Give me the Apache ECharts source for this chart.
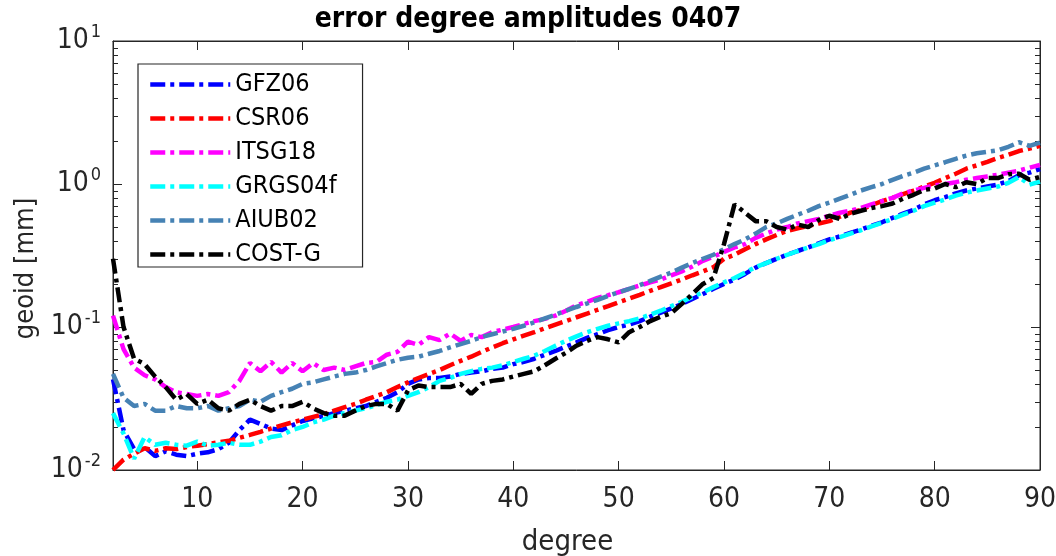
<!DOCTYPE html>
<html>
<head>
<meta charset="utf-8">
<script src="https://cdn.jsdelivr.net/npm/echarts@6/dist/echarts.min.js"></script>
<style>
  html, body { margin: 0; padding: 0; background: #fff; }
  #chart { width: 1056px; height: 556px; }
</style>
</head>
<body>
<div id="chart"></div>
<script>
const FONT = "'Liberation Sans Narrow', 'DejaVu Sans Condensed', 'Liberation Sans', sans-serif";

const degrees = [2, 3, 4, 5, 6, 7, 8, 9, 10, 11, 12, 13, 14, 15, 16, 17, 18, 19, 20,
  21, 22, 23, 24, 25, 26, 27, 28, 29, 30, 31, 32, 33, 34, 35, 36, 37, 38, 39, 40,
  41, 42, 43, 44, 45, 46, 47, 48, 49, 50, 51, 52, 53, 54, 55, 56, 57, 58, 59, 60,
  61, 62, 63, 64, 65, 66, 67, 68, 69, 70, 71, 72, 73, 74, 75, 76, 77, 78, 79, 80,
  81, 82, 83, 84, 85, 86, 87, 88, 89, 90];

const gfz06 = [0.043, 0.019, 0.014, 0.0145, 0.0125, 0.0135, 0.0128, 0.0125, 0.013, 0.0133,
  0.014, 0.0155, 0.019, 0.0225, 0.021, 0.0195, 0.019, 0.0205, 0.022, 0.023,
  0.0238, 0.025, 0.026, 0.027, 0.028, 0.030, 0.032, 0.035, 0.040, 0.043,
  0.044, 0.044, 0.045, 0.047, 0.048, 0.049, 0.051, 0.052, 0.055, 0.057,
  0.06, 0.064, 0.068, 0.073, 0.078, 0.084, 0.089, 0.095, 0.1, 0.104,
  0.11, 0.118, 0.126, 0.135, 0.145, 0.157, 0.17, 0.185, 0.2, 0.215,
  0.235, 0.26, 0.28, 0.3, 0.32, 0.34, 0.36, 0.385, 0.41, 0.43,
  0.455, 0.48, 0.51, 0.54, 0.58, 0.62, 0.66, 0.72, 0.77, 0.81,
  0.86, 0.9, 0.93, 0.96, 0.99, 1.05, 1.15, 1.2, 1.27];

const csr06 = [0.01, 0.0118, 0.013, 0.0142, 0.0136, 0.0142, 0.014, 0.0145, 0.0148, 0.0152,
  0.0156, 0.016, 0.0168, 0.0176, 0.0185, 0.0195, 0.0205, 0.0215, 0.0225, 0.0235,
  0.0245, 0.026, 0.0275, 0.029, 0.031, 0.033, 0.035, 0.038, 0.041, 0.044,
  0.047, 0.05, 0.054, 0.058, 0.062, 0.067, 0.072, 0.077, 0.082, 0.087,
  0.092, 0.098, 0.104, 0.11, 0.117, 0.124, 0.132, 0.14, 0.149, 0.158,
  0.168, 0.179, 0.19, 0.202, 0.215, 0.23, 0.245, 0.262, 0.3, 0.32,
  0.35, 0.38, 0.41, 0.44, 0.47, 0.49, 0.51, 0.53, 0.55, 0.59,
  0.63, 0.66, 0.71, 0.76, 0.8, 0.85, 0.9, 0.96, 1.02, 1.1,
  1.18, 1.28, 1.35, 1.43, 1.52, 1.6, 1.7, 1.77, 1.85];

const itsg18 = [0.12, 0.07, 0.052, 0.046, 0.043, 0.038, 0.035, 0.034, 0.033, 0.034,
  0.033, 0.035, 0.042, 0.056, 0.049, 0.057, 0.048, 0.056, 0.049, 0.056,
  0.05, 0.052, 0.05, 0.053, 0.056, 0.057, 0.064, 0.067, 0.079, 0.075,
  0.085, 0.081, 0.09, 0.08, 0.088, 0.085, 0.092, 0.096, 0.1, 0.105,
  0.11, 0.114, 0.12, 0.13, 0.142, 0.15, 0.16, 0.167, 0.175, 0.185,
  0.195, 0.205, 0.215, 0.23, 0.245, 0.265, 0.29, 0.31, 0.335, 0.36,
  0.38, 0.42, 0.45, 0.48, 0.5, 0.53, 0.55, 0.57, 0.6, 0.63,
  0.65, 0.68, 0.72, 0.76, 0.8, 0.86, 0.9, 0.94, 0.98, 1.0,
  1.03, 1.07, 1.1, 1.13, 1.16, 1.2, 1.24, 1.3, 1.36];

const grgs04f = [0.025, 0.018, 0.012, 0.017, 0.015, 0.0155, 0.015, 0.0148, 0.0158, 0.0148,
  0.015, 0.0155, 0.015, 0.015, 0.0158, 0.017, 0.0175, 0.019, 0.02, 0.0215,
  0.0225, 0.024, 0.025, 0.026, 0.027, 0.0285, 0.03, 0.031, 0.033, 0.035,
  0.038, 0.042, 0.044, 0.047, 0.049, 0.051, 0.052, 0.054, 0.057, 0.06,
  0.063, 0.068, 0.074, 0.08, 0.086, 0.092, 0.097, 0.102, 0.106, 0.11,
  0.115, 0.122, 0.13, 0.14, 0.15, 0.162, 0.175, 0.19, 0.205, 0.22,
  0.24, 0.262, 0.28, 0.3, 0.32, 0.34, 0.36, 0.38, 0.405, 0.425,
  0.45, 0.475, 0.505, 0.535, 0.57, 0.61, 0.65, 0.7, 0.74, 0.78,
  0.83, 0.87, 0.9, 0.93, 0.96, 1.02, 1.12, 0.99, 1.04];

const aiub02 = [0.047, 0.032, 0.028, 0.029, 0.026, 0.026, 0.028, 0.027, 0.027, 0.028,
  0.026, 0.027, 0.028, 0.031, 0.03, 0.033, 0.035, 0.037, 0.04, 0.041,
  0.043, 0.045, 0.047, 0.048, 0.05, 0.053, 0.056, 0.059, 0.061, 0.062,
  0.065, 0.068, 0.072, 0.076, 0.08, 0.085, 0.089, 0.093, 0.097, 0.102,
  0.108, 0.115, 0.122, 0.13, 0.138, 0.146, 0.155, 0.165, 0.175, 0.185,
  0.196, 0.21, 0.225, 0.24, 0.26, 0.28, 0.3, 0.32, 0.35, 0.38,
  0.41, 0.45, 0.5, 0.53, 0.57, 0.61, 0.65, 0.7, 0.74, 0.79,
  0.84, 0.9, 0.95, 1.0, 1.07, 1.14, 1.2, 1.28, 1.35, 1.42,
  1.5, 1.58, 1.64, 1.68, 1.72, 1.82, 1.96, 1.85, 1.95];

const costg = [0.3, 0.1, 0.06, 0.055, 0.045, 0.038, 0.031, 0.034, 0.029, 0.031,
  0.027, 0.026, 0.029, 0.031, 0.028, 0.026, 0.028, 0.028, 0.03, 0.027,
  0.025, 0.024, 0.024, 0.026, 0.028, 0.029, 0.029, 0.026, 0.036, 0.039,
  0.038, 0.038, 0.038, 0.04, 0.034, 0.04, 0.042, 0.043, 0.045, 0.047,
  0.049, 0.054, 0.06, 0.066, 0.074, 0.08, 0.085, 0.082, 0.078, 0.092,
  0.1, 0.11, 0.118, 0.125, 0.145, 0.17, 0.2, 0.22, 0.38, 0.72,
  0.63, 0.55, 0.55, 0.5, 0.48, 0.52, 0.5, 0.56, 0.6, 0.57,
  0.62, 0.65, 0.68, 0.7, 0.73, 0.79, 0.84, 0.91, 0.93, 1.0,
  0.95, 1.03, 1.0, 1.1, 1.1, 1.17, 1.18, 1.07, 1.12];

const xTicks = [10, 20, 30, 40, 50, 60, 70, 80, 90];
const yMinorTicks = [0.02, 0.03, 0.04, 0.05, 0.06, 0.07, 0.08, 0.09,
  0.2, 0.3, 0.4, 0.5, 0.6, 0.7, 0.8, 0.9, 2, 3, 4, 5, 6, 7, 8, 9];

const seriesDefs = [
  { name: 'GFZ06', data: gfz06, color: '#0000ff' },
  { name: 'CSR06', data: csr06, color: '#ff0000' },
  { name: 'ITSG18', data: itsg18, color: '#ff00ff' },
  { name: 'GRGS04f', data: grgs04f, color: '#00ffff' },
  { name: 'AIUB02', data: aiub02, color: '#4682b4' },
  { name: 'COST-G', data: costg, color: '#000000' }
];

const axisColor = '#262626';
const dashDot = [15, 5, 4, 5];
const myChart = echarts.init(document.getElementById('chart'), null, { renderer: 'canvas' });

const grid = {
  left: 113, right: 16, top: 41, bottom: 86,
  outerBoundsMode: 'none', containLabel: false,
  show: true, borderColor: axisColor, borderWidth: 1, backgroundColor: '#fff'
};

function yLabel(v) {
  const e = Math.round(Math.log10(v));
  return '{b|10}{e|' + e + '}';
}

const option = {
  animation: false,
  backgroundColor: '#fff',
  title: {
    text: 'error degree amplitudes 0407',
    left: 'center',
    top: 1,
    textStyle: { fontFamily: FONT, fontSize: 28, fontWeight: 'bold', color: '#000' }
  },
  grid: grid,
  legend: {
    orient: 'vertical',
    left: 138,
    top: 64,
    itemWidth: 80,
    itemHeight: 14,
    itemGap: 9,
    padding: [8, 26, 0, 10],
    borderColor: axisColor,
    borderWidth: 1.2,
    backgroundColor: '#fff',
    itemStyle: { opacity: 0 },
    lineStyle: { width: 4.5 },
    textStyle: { fontFamily: FONT, fontSize: 25, color: '#000' },
    data: seriesDefs.map(s => s.name)
  },
  xAxis: [
    {
      type: 'value', min: 2, max: 90,
      name: 'degree', nameLocation: 'middle', nameGap: 58,
      nameTextStyle: { fontFamily: FONT, fontSize: 29, color: axisColor, padding: [0, 18, 0, 0] },
      axisLine: { lineStyle: { color: axisColor, width: 1 } },
      axisTick: { inside: true, length: 9, customValues: xTicks, lineStyle: { color: axisColor } },
      axisLabel: { customValues: xTicks, margin: 16, fontFamily: FONT, fontSize: 28, color: axisColor },
      splitLine: { show: false }
    },
    {
      type: 'value', min: 2, max: 90, position: 'top',
      axisLine: { lineStyle: { color: axisColor, width: 1 } },
      axisTick: { inside: true, length: 9, customValues: xTicks, lineStyle: { color: axisColor } },
      axisLabel: { show: false },
      splitLine: { show: false }
    }
  ],
  yAxis: [
    {
      type: 'log', logBase: 10, min: 0.01, max: 10,
      name: 'geoid [mm]', nameLocation: 'middle', nameGap: 74,
      nameTextStyle: { fontFamily: FONT, fontSize: 27, color: axisColor, padding: [0, 26, 0, 0] },
      axisLine: { lineStyle: { color: axisColor, width: 1 } },
      axisTick: { inside: true, length: 9, lineStyle: { color: axisColor } },
      axisLabel: {
        margin: 12, formatter: yLabel,
        rich: {
          b: { fontFamily: FONT, fontSize: 28, color: axisColor },
          e: { fontFamily: FONT, fontSize: 18, color: axisColor, padding: [0, 0, 18, 2] }
        }
      },
      splitLine: { show: false }
    },
    {
      type: 'log', logBase: 10, min: 0.01, max: 10, position: 'right',
      axisLine: { lineStyle: { color: axisColor, width: 1 } },
      axisTick: { inside: true, length: 9, lineStyle: { color: axisColor } },
      axisLabel: { show: false },
      splitLine: { show: false }
    }
  ],
  series: seriesDefs.map(s => ({
    name: s.name,
    type: 'line',
    symbol: 'none',
    color: s.color,
    lineStyle: { color: s.color, width: 4.5, type: dashDot, cap: 'butt' },
    data: degrees.map((d, i) => [d, s.data[i]])
  }))
};

myChart.setOption(option);

// minor log ticks on left and right axes, placed through the axis scale
const left = grid.left;
const right = 1056 - grid.right;
const minor = [];
yMinorTicks.forEach(v => {
  const y = Math.round(myChart.convertToPixel({ yAxisIndex: 0 }, v)) + 0.5;
  minor.push({ type: 'line', shape: { x1: left, y1: y, x2: left + 5, y2: y }, style: { stroke: axisColor, lineWidth: 1 }, silent: true });
  minor.push({ type: 'line', shape: { x1: right - 5, y1: y, x2: right, y2: y }, style: { stroke: axisColor, lineWidth: 1 }, silent: true });
});
myChart.setOption({ graphic: minor });
</script>
</body>
</html>
